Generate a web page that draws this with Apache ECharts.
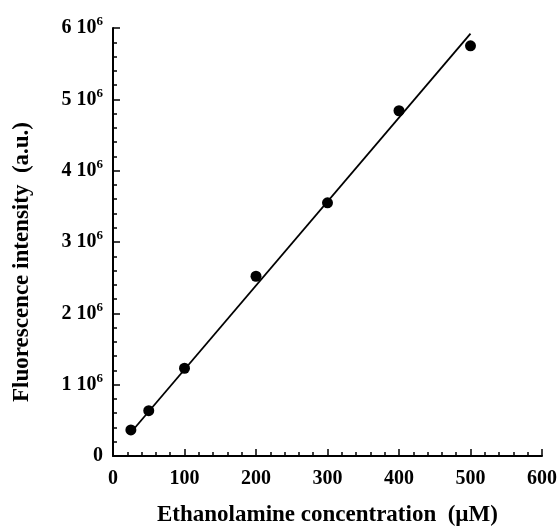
<!DOCTYPE html>
<html>
<head>
<meta charset="utf-8">
<script src="https://cdn.jsdelivr.net/npm/echarts@6/dist/echarts.min.js"></script>
<style>
  html, body { margin: 0; padding: 0; background: #fff; }
  #chart { width: 559px; height: 526px; }
</style>
</head>
<body>
<div id="chart"></div>
<script>
// measured points
var concentration = [25, 50, 100, 200, 300, 400, 500];
var intensity = [0.365e6, 0.635e6, 1.23e6, 2.52e6, 3.55e6, 4.84e6, 5.75e6];

// linear fit, end points
var fitX = [25, 500];
var fitY = [0.33e6, 5.92e6];

var chart = echarts.init(document.getElementById('chart'));

var font = 'Liberation Serif';

var option = {
    animation: false,
    grid: {
        left: 113,
        right: 17,
        top: 28,
        bottom: 70,
        outerBoundsMode: 'none'
    },
    xAxis: {
        type: 'value',
        min: 0,
        max: 600,
        interval: 100,
        name: 'Ethanolamine concentration  (\u00b5M)',
        nameLocation: 'middle',
        nameGap: 48,
        nameTextStyle: { fontFamily: font, fontWeight: 'bold', fontSize: 23, color: '#000' },
        axisLine: { lineStyle: { color: '#000', width: 2 } },
        axisTick: { inside: true, length: 7, lineStyle: { color: '#000', width: 1.5 } },
        minorTick: { show: true, splitNumber: 5, length: 4, lineStyle: { color: '#000', width: 1.5 } },
        splitLine: { show: false },
        axisLabel: { fontFamily: font, fontWeight: 'bold', fontSize: 20, color: '#000', margin: 13 }
    },
    yAxis: {
        type: 'value',
        min: 0,
        max: 6e6,
        interval: 1e6,
        name: 'Fluorescence intensity  (a.u.)',
        nameLocation: 'middle',
        nameGap: 79,
        nameTextStyle: {
            fontFamily: font, fontWeight: 'bold', fontSize: 23, color: '#000',
            padding: [0, 40, 0, 0]   // pushes the title a bit lower, as in the original
        },
        axisLine: { show: true, lineStyle: { color: '#000', width: 2 } },
        axisTick: { show: true, inside: true, length: 7, lineStyle: { color: '#000', width: 1.5 } },
        minorTick: { show: true, splitNumber: 5, length: 4, lineStyle: { color: '#000', width: 1.5 } },
        splitLine: { show: false },
        axisLabel: {
            margin: 10,
            color: '#000',
            formatter: function (v) {
                if (v === 0) return '{n|0}';
                return '{n|' + (v / 1e6) + ' 10}{sup|6}';
            },
            rich: {
                n: { fontFamily: font, fontWeight: 'bold', fontSize: 20, color: '#000' },
                sup: { fontFamily: font, fontWeight: 'bold', fontSize: 13, color: '#000', padding: [0, 0, 12, 0] }
            }
        }
    },
    series: [
        {
            type: 'line',
            data: fitX.map(function (x, i) { return [x, fitY[i]]; }),
            symbol: 'none',
            lineStyle: { color: '#000', width: 1.8 },
            z: 1
        },
        {
            type: 'scatter',
            data: concentration.map(function (x, i) { return [x, intensity[i]]; }),
            symbol: 'circle',
            symbolSize: 11,
            itemStyle: { color: '#000', opacity: 1 },
            z: 2
        }
    ]
};

chart.setOption(option);
</script>
</body>
</html>
